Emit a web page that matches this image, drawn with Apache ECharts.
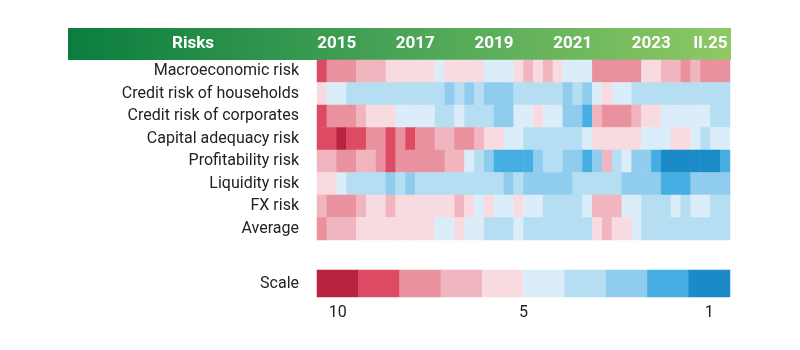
<!DOCTYPE html>
<html>
<head>
<meta charset="utf-8">
<script src="https://cdn.jsdelivr.net/npm/echarts@6/dist/echarts.min.js"></script>
<style>
    html, body { margin: 0; padding: 0; background: #fff; }
    #risk-map { width: 800px; height: 350px; }
</style>
</head>
<body>
<div id="risk-map"></div>
<script>
// rows of the heat map, top to bottom
var risks = ['Macroeconomic risk', 'Credit risk of households', 'Credit risk of corporates',
    'Capital adequacy risk', 'Profitability risk', 'Liquidity risk', 'FX risk', 'Average'];

// quarterly columns 2015 Q1 .. 2025 Q2, scores 1 (low) .. 10 (high)
var macro         = [9,8,8,8,7,7,7,6,6,6, 6,6,5,6,6,6,6,5,5,5, 6,7,6,7,6,5,5,5,8,8, 8,8,8,6,6,7,7,8,7,8, 8,8];
var households    = [6,5,5,4,4,4,4,4,4,4, 4,4,4,3,4,3,4,3,3,3, 4,4,4,4,4,3,4,3,5,6, 5,5,4,4,4,4,4,4,4,4, 4,4];
var corporates    = [9,8,8,8,7,6,6,6,5,5, 5,5,4,4,5,4,4,4,3,3, 5,5,6,5,5,3,3,2,7,8, 8,8,7,6,6,5,5,5,5,5, 4,4];
var capital       = [9,9,10,9,9,8,8,9,8,9, 8,8,7,7,8,8,7,6,6,5, 5,4,4,4,4,4,4,5,6,6, 6,6,6,5,5,5,6,6,5,4, 5,5];
var profitability = [7,7,8,8,7,7,8,9,8,8, 8,8,8,7,7,5,4,3,2,2, 2,2,3,4,4,3,3,2,3,7, 4,5,3,3,2,1,1,1,1,1, 1,2];
var liquidity     = [6,6,5,4,4,4,4,3,4,3, 4,4,4,4,4,4,4,4,4,3, 4,3,3,3,3,3,4,4,4,4, 4,3,3,3,3,2,2,2,3,3, 3,3];
var fx            = [7,8,8,8,7,6,6,7,6,6, 6,6,6,6,7,6,5,6,5,5, 6,5,5,4,4,4,4,5,7,7, 7,5,5,4,4,4,5,4,5,5, 4,4];
var average       = [8,7,7,7,6,6,6,6,6,6, 6,6,5,5,6,5,5,4,4,4, 5,4,4,4,4,4,4,4,6,7, 6,6,5,4,4,4,4,4,4,4, 4,4];

// header tick labels (value axis, column units) and scale strip
var headerTicks  = [2, 10, 18, 26, 34, 40];
var headerLabels = ['2015', '2017', '2019', '2021', '2023', 'II.25'];
var scaleValues  = [10, 9, 8, 7, 6, 5, 4, 3, 2, 1];
var scaleTicks   = [0.5, 5, 9.5];
var scaleLabels  = ['10', '5', '1'];

// colour for score 1 .. 10
var scoreColors = ['#1a8bc6', '#46aee3', '#90ccee', '#b5def3', '#dbedf8',
                   '#f8dbe0', '#f1b5c0', '#e9919e', '#dd4b63', '#b8233f'];

var rows = [macro, households, corporates, capital, profitability, liquidity, fx, average];

var quarters = [];
for (var y = 2015; y <= 2025; y++) {
    for (var q = 1; q <= 4; q++) {
        if (quarters.length < macro.length) quarters.push(y + 'Q' + q);
    }
}

var mapData = [];
for (var r = 0; r < rows.length; r++) {
    for (var c = 0; c < rows[r].length; c++) {
        mapData.push([c, r, rows[r][c]]);
    }
}
var scaleData = [];
for (var i = 0; i < scaleValues.length; i++) {
    scaleData.push([i, 0, scaleValues[i]]);
}

var pieces = [];
for (var s = 0; s < scoreColors.length; s++) {
    pieces.push({ value: s + 1, color: scoreColors[s] });
}

var font = 'Roboto, "Noto Sans", sans-serif';
var chart = echarts.init(document.getElementById('risk-map'));

var option = {
    animation: false,
    textStyle: { fontFamily: font },
    graphic: [
        {
            type: 'rect',
            z: -10,
            shape: { x: 68, y: 28, width: 663, height: 32 },
            style: {
                fill: new echarts.graphic.LinearGradient(0, 0, 1, 0, [
                    { offset: 0, color: '#0a7d3e' },
                    { offset: 0.5, color: '#49a457' },
                    { offset: 1, color: '#8fc964' }
                ])
            }
        },
        {
            type: 'text',
            z: 10,
            x: 193, y: 44,
            style: {
                text: 'Risks',
                fill: '#fff',
                font: 'bold 17px ' + font,
                align: 'center',
                verticalAlign: 'middle'
            }
        }
    ],
    visualMap: {
        type: 'piecewise',
        show: false,
        dimension: 2,
        seriesIndex: [0, 1],
        pieces: pieces
    },
    grid: [
        { left: 317, width: 413, top: 60, height: 180 },
        { left: 317, width: 413, top: 270, height: 27 }
    ],
    xAxis: [
        {
            type: 'category', gridIndex: 0, data: quarters,
            axisLine: { show: false }, axisTick: { show: false },
            axisLabel: { show: false }, splitLine: { show: false }
        },
        {
            type: 'value', gridIndex: 0, position: 'top', min: 0, max: quarters.length,
            axisLine: { show: false }, axisTick: { show: false }, splitLine: { show: false },
            axisLabel: {
                customValues: headerTicks,
                color: '#fff', fontSize: 17, fontWeight: 'bold', margin: 8,
                formatter: function (v) { return headerLabels[headerTicks.indexOf(v)]; }
            }
        },
        {
            type: 'category', gridIndex: 1, data: scaleValues.map(String),
            axisLine: { show: false }, axisTick: { show: false },
            axisLabel: { show: false }, splitLine: { show: false }
        },
        {
            type: 'value', gridIndex: 1, position: 'bottom', min: 0, max: scaleValues.length,
            axisLine: { show: false }, axisTick: { show: false }, splitLine: { show: false },
            axisLabel: {
                customValues: scaleTicks,
                color: '#222', fontSize: 16, margin: 8,
                formatter: function (v) { return scaleLabels[scaleTicks.indexOf(v)]; }
            }
        }
    ],
    yAxis: [
        {
            type: 'category', gridIndex: 0, data: risks, inverse: true,
            axisLine: { show: false }, axisTick: { show: false }, splitLine: { show: false },
            axisLabel: { color: '#222', fontSize: 16, margin: 18 }
        },
        {
            type: 'category', gridIndex: 1, data: ['Scale'],
            axisLine: { show: false }, axisTick: { show: false }, splitLine: { show: false },
            axisLabel: { color: '#222', fontSize: 16, margin: 18 }
        }
    ],
    series: [
        {
            name: 'Risks', type: 'heatmap',
            xAxisIndex: 0, yAxisIndex: 0,
            data: mapData,
            emphasis: { disabled: true }
        },
        {
            name: 'Scale', type: 'heatmap',
            xAxisIndex: 2, yAxisIndex: 1,
            data: scaleData,
            emphasis: { disabled: true }
        }
    ]
};
chart.setOption(option);
</script>
</body>
</html>
